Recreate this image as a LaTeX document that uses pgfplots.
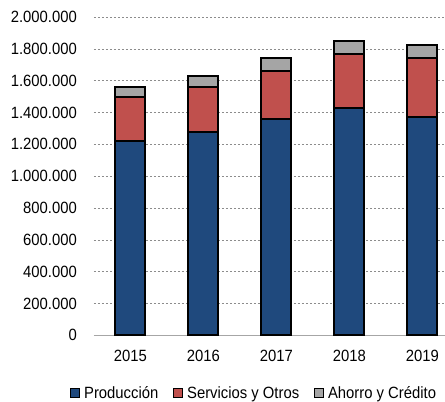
\documentclass[border=0pt]{standalone}
\usepackage{pgfplots}
\pgfplotsset{compat=1.18}
\usepackage{fontspec}
\setmainfont[FakeStretch=0.91]{Liberation Sans}
\definecolor{cprod}{HTML}{1F497D}
\definecolor{cserv}{HTML}{C0504D}
\definecolor{cahor}{HTML}{A5A5A5}
\begin{document}
\begin{tikzpicture}
\begin{axis}[
  scale only axis, width=351pt, height=318.3pt,
  ymin=0, ymax=2000000, xmin=-0.5, xmax=4.31,
  ybar stacked, bar width=30pt,
  xtick={0,1,2,3,4}, xticklabels={2015,2016,2017,2018,2019},
  ytick={0,200000,400000,600000,800000,1000000,1200000,1400000,1600000,1800000,2000000},
  yticklabels={0,200.000,400.000,600.000,800.000,1.000.000,1.200.000,1.400.000,1.600.000,1.800.000,2.000.000},
  scaled y ticks=false,
  ymajorgrids, major grid style={dash pattern=on 2pt off 2pt, color=gray!90, line width=0.6pt},
  axis x line=bottom, axis y line=left, axis line style={-},
  y axis line style={draw=none}, x axis line style={gray!70, line width=1pt},
  major tick length=0pt,
  tick label style={font=\fontsize{16.3}{19}\selectfont, inner sep=0pt},
  yticklabel shift=17pt, xticklabel shift=15pt,
  legend columns=3,
  legend style={at={(-0.068,-0.181)}, anchor=west, draw=none, fill=none, inner sep=0pt,
    font=\fontsize{16.3}{19}\selectfont, nodes={inner sep=0pt},
    /tikz/every even column/.append style={column sep=15pt},
    /tikz/every odd column/.append style={column sep=4pt}},
  legend image code/.code={\draw[#1, draw=black, line width=0.8pt] (0pt,-4.5pt) rectangle (9pt,4.5pt);},
]
\addplot[fill=cprod, draw=black, line width=2pt] coordinates {(0,1221000) (1,1276000) (2,1360000) (3,1431000) (4,1374000)};
\addplot[fill=cserv, draw=black, line width=2pt] coordinates {(0,279000) (1,287000) (2,301000) (3,337000) (4,367000)};
\addplot[fill=cahor, draw=black, line width=2pt] coordinates {(0,61000) (1,67000) (2,82000) (3,80000) (4,86000)};
\legend{Producción, Servicios y Otros, Ahorro y Crédito}
\end{axis}
\pgfresetboundingbox
\path[use as bounding box] (-94pt,-66.7pt) rectangle (351pt,335.3pt);
\end{tikzpicture}
\end{document}
